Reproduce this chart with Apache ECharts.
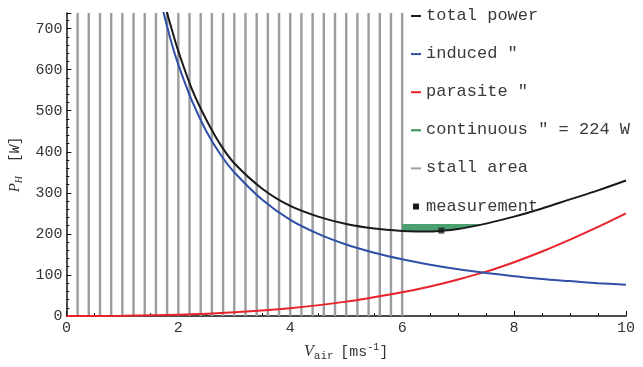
<!DOCTYPE html>
<html><head><meta charset="utf-8">
<script src="https://cdn.jsdelivr.net/npm/echarts@6/dist/echarts.min.js"></script>
<style>html,body{margin:0;padding:0;background:#fff}#c{width:643px;height:367px}</style>
</head><body><div id="c"></div>
<script>
// ---- data ----
const totalV   = [1.7, 1.8, 1.9, 2.0, 2.25, 2.5, 2.75, 3.0, 3.5, 4.0, 4.5, 5.0, 5.5, 6.0, 6.25, 6.5, 6.75, 7.0, 7.25, 7.5, 8.0, 8.5, 9.0, 9.5, 10];
const totalP   = [790, 738, 690, 645, 550, 478, 418, 372, 310, 268, 242, 224, 213, 207, 206, 206, 208, 212, 218, 225, 242, 262, 284, 306, 330];
const inducedV = [1.6, 1.7, 1.8, 1.9, 2.0, 2.25, 2.5, 2.75, 3.0, 3.5, 4.0, 4.5, 5.0, 5.5, 6.0, 6.5, 7.0, 7.5, 8.0, 8.5, 9.0, 9.5, 10];
const inducedP = [830, 760, 705, 655, 612, 522, 450, 394, 350, 283, 234, 200, 174, 154, 138, 125, 114, 105, 97, 90, 85, 80, 76];
const parasiteV = [0, 1, 2, 3, 4, 5, 6, 6.5, 7, 7.5, 8, 8.5, 9, 9.5, 10];
const parasiteP = [0, 0.5, 3, 9, 19, 35, 58, 72, 89, 108, 131, 157, 186, 217, 250];
const continuousP = 224;
const greenV = [6.0, 6.25, 6.5, 6.75, 7.0, 7.25, 7.45];
const greenP = [207, 206, 206, 208, 212, 218, 224];
const stallV = [0.2,0.4,0.6,0.8,1.0,1.2,1.4,1.6,1.8,2.0,2.2,2.4,2.6,2.8,3.0,3.2,3.4,3.6,3.8,4.0,4.2,4.4,4.6,4.8,5.0,5.2,5.4,5.6,5.8,6.0];
const measV = [6.7];
const measP = [208];
const legendLabels = ['total power', 'induced "', 'parasite "', 'continuous " = 224 W', 'stall area', 'measurement'];
const yMax = 738;

const zip = (a, b) => a.map((v, i) => [v, b[i]]);
const mono = '"Liberation Mono", "DejaVu Sans Mono", monospace';

const chart = echarts.init(document.getElementById('c'), null, {renderer: 'canvas'});

const legendColors = ['#1a1a1a', '#3050a8', '#e8222a', '#2f8f55', '#a0a0a4', '#1a1a1a'];
const graphics = [];
legendLabels.forEach((t, i) => {
  const y = 16 + i * 38.1;
  if (i === 5) {
    graphics.push({type: 'rect', left: 413, top: y - 3, shape: {width: 6, height: 6}, style: {fill: legendColors[i]}, z: 100});
  } else {
    graphics.push({type: 'rect', left: 411, top: y - 1, shape: {width: 10, height: 2}, style: {fill: legendColors[i]}, z: 100});
  }
  graphics.push({type: 'text', left: 426, top: y - 9, style: {text: t, fill: '#3a3a3a', font: '17px ' + mono}, z: 100});
});

const lineCommon = {type: 'line', smooth: 0.35, showSymbol: false, clip: true};

chart.setOption({
  animation: false,
  grid: {left: 65, right: 17, top: 13, bottom: 46, containLabel: false},
  xAxis: {
    type: 'value', min: 0, max: 10, interval: 2,
    axisLine: {lineStyle: {color: '#111', width: 1.5}},
    axisTick: {inside: true, length: 5, lineStyle: {color: '#111'}},
    minorTick: {show: true, splitNumber: 4, length: 3, lineStyle: {color: '#111'}},
    splitLine: {show: false},
    axisLabel: {color: '#333', fontFamily: mono, fontSize: 15, margin: 5},
    name: '{v|V}{sub|air}  {n|[ms}{sup|-1}{n|]}',
    nameLocation: 'middle', nameGap: 26,
    nameTextStyle: {
      rich: {
        v: {fontFamily: '"Liberation Serif", serif', fontStyle: 'italic', fontSize: 16, color: '#333', lineHeight: 20},
        sub: {fontFamily: mono, fontSize: 11, color: '#333', verticalAlign: 'bottom', lineHeight: 12},
        n: {fontFamily: mono, fontSize: 15, color: '#333', lineHeight: 20},
        sup: {fontFamily: mono, fontSize: 10, color: '#333', verticalAlign: 'top', lineHeight: 10}
      }
    }
  },
  yAxis: {
    type: 'value', min: 0, max: yMax, interval: 100,
    axisLine: {show: true, lineStyle: {color: '#111', width: 1.5}},
    axisTick: {show: true, inside: true, length: 5, lineStyle: {color: '#111'}},
    minorTick: {show: true, splitNumber: 5, length: 3, lineStyle: {color: '#111'}},
    splitLine: {show: false},
    axisLabel: {color: '#333', fontFamily: mono, fontSize: 15, margin: 4, showMaxLabel: false},
    name: '{v|P}{sub|H}{gap| }{n|[}{w|W}{n|]}',
    nameLocation: 'middle', nameGap: 32, nameRotate: 90,
    nameTextStyle: {
      rich: {
        v: {fontFamily: '"Liberation Serif", serif', fontStyle: 'italic', fontSize: 15, color: '#333', lineHeight: 18},
        sub: {fontFamily: '"Liberation Serif", serif', fontStyle: 'italic', fontSize: 10, color: '#333', verticalAlign: 'bottom', lineHeight: 10},
        gap: {fontSize: 14, width: 14},
        n: {fontFamily: mono, fontSize: 14, color: '#333', lineHeight: 18},
        w: {fontFamily: mono, fontStyle: 'italic', fontSize: 14, color: '#333', lineHeight: 18}
      }
    }
  },
  graphic: graphics,
  series: [
    {
      name: 'stall area', type: 'custom', z: 1,
      data: stallV.map(v => [v]),
      renderItem: (params, api) => {
        const p0 = api.coord([api.value(0), 0]);
        const p1 = api.coord([api.value(0), yMax]);
        return {type: 'line', shape: {x1: p0[0], y1: p0[1], x2: p1[0], y2: p1[1]}, style: {stroke: '#9c9ca0', lineWidth: 2.4}};
      },
      clip: true
    },
    {
      name: 'continuous', type: 'custom', z: 2,
      data: [0],
      renderItem: (params, api) => {
        const pts = greenV.map((v, i) => api.coord([v, greenP[i]]));
        for (let i = greenV.length - 1; i >= 0; i--) pts.push(api.coord([greenV[i], continuousP]));
        return {type: 'polygon', shape: {points: pts}, style: {fill: '#4aa06f'}};
      }
    },
    Object.assign({name: 'parasite', z: 3, data: zip(parasiteV, parasiteP), lineStyle: {color: '#e8222a', width: 2}}, lineCommon),
    Object.assign({name: 'induced', z: 4, data: zip(inducedV, inducedP), lineStyle: {color: '#3050a8', width: 2}}, lineCommon),
    Object.assign({name: 'total power', z: 5, data: zip(totalV, totalP), lineStyle: {color: '#1a1a1a', width: 2}}, lineCommon),
    {name: 'measurement', type: 'scatter', z: 6, data: zip(measV, measP), symbol: 'rect', symbolSize: 6, itemStyle: {color: '#1a1a1a'}}
  ]
});
</script>
</body></html>
